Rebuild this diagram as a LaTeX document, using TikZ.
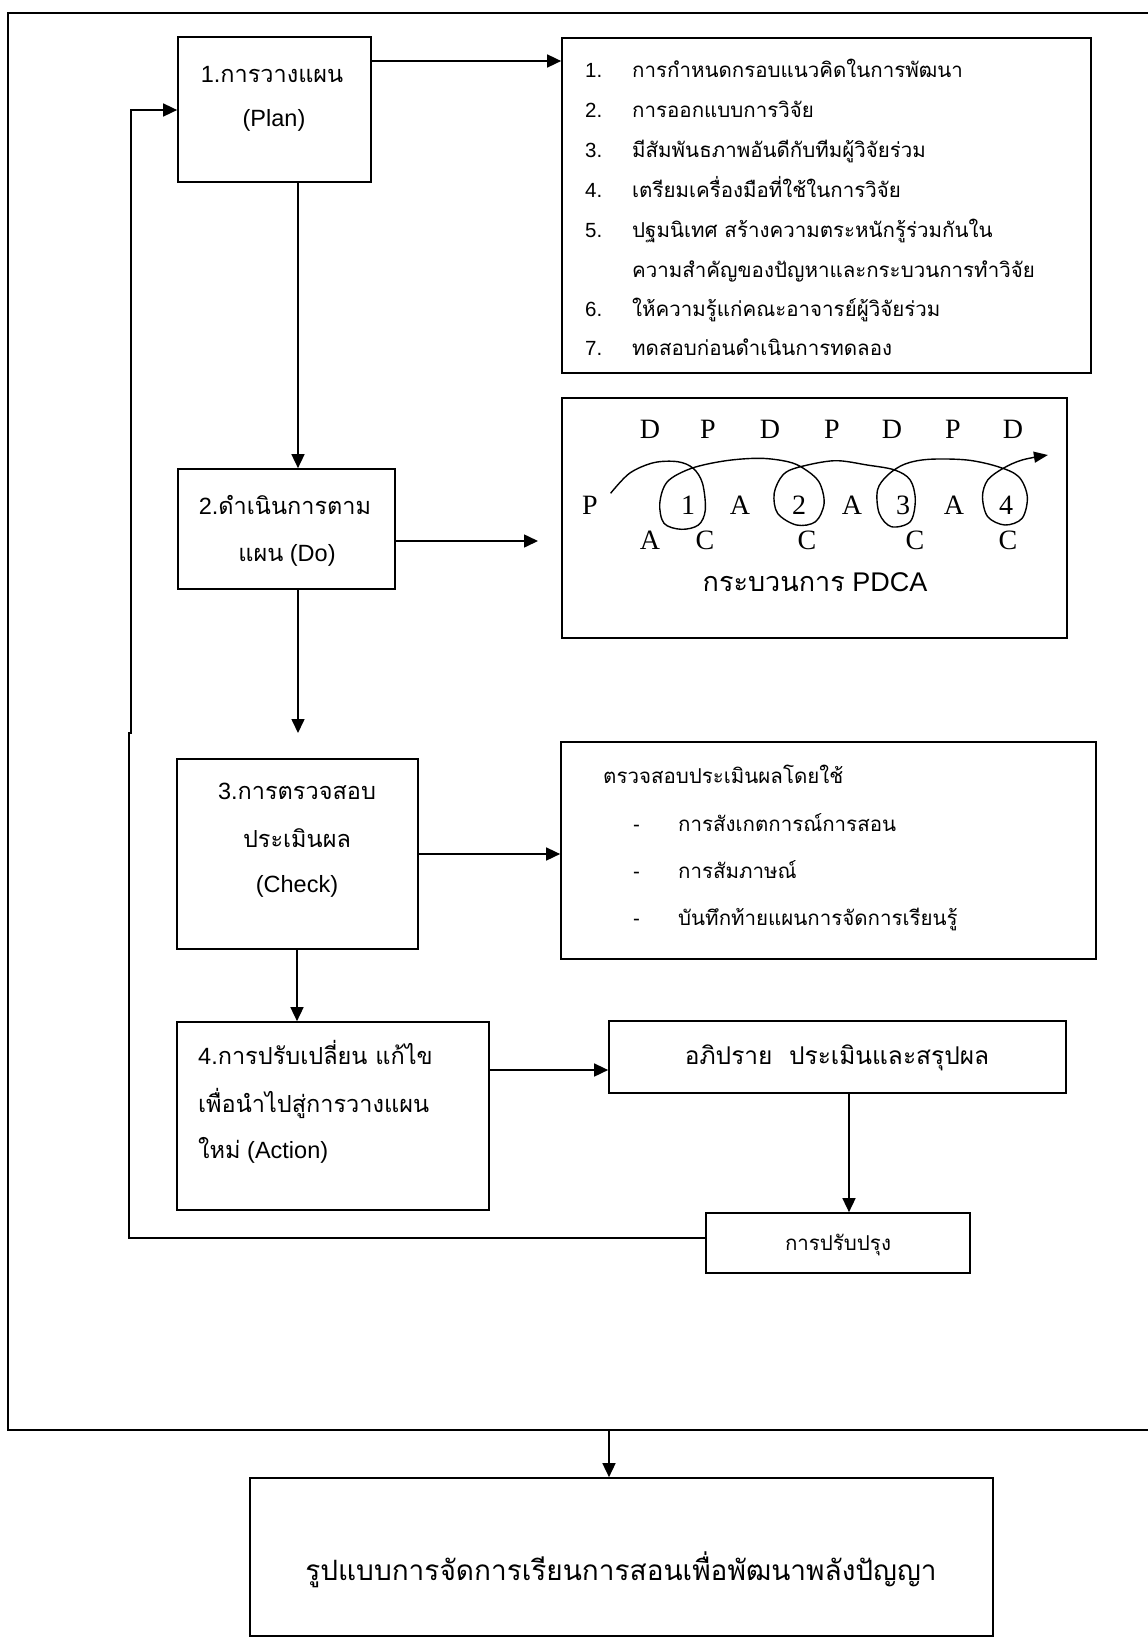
\documentclass[tikz,border=0pt]{standalone}
\usepackage{fontspec}
\setmainfont{Liberation Sans}
\newfontfamily\thaifont[Script=Thai]{Loma}
\newfontfamily\timesfont{Liberation Serif}
\usetikzlibrary{arrows.meta}
\newcommand{\thx}[1]{{\thaifont #1}}
\begin{document}
\begin{tikzpicture}[x=1pt,y=-1pt,
  box/.style={draw, line width=1.7pt, inner sep=0pt},
  conn/.style={line width=1.6pt},
  arr/.style={conn, -{Triangle[length=14pt,width=13pt]}},
  txt/.style={inner sep=0pt, anchor=mid, font=\fontsize{23.5}{28}\selectfont},
  ltxt/.style={inner sep=0pt, anchor=mid west, font=\fontsize{20.5}{25}\selectfont},
  pd/.style={inner sep=0pt, anchor=base, font=\timesfont\fontsize{28}{32}\selectfont},
]
\useasboundingbox (0,0) rectangle (1148,1639);
% outer frame
\draw[line width=2pt] (1148,13) -- (8,13) -- (8,1430) -- (1148,1430);
\coordinate (fb) at (609,1430);

% boxes
\node[box, minimum width=193pt, minimum height=145pt] (b1) at (274.5,109.5) {};
\node[box, minimum width=529pt, minimum height=335pt] (list) at (826.5,205.5) {};
\node[box, minimum width=217pt, minimum height=120pt] (b2) at (286.5,529) {};
\node[box, minimum width=505pt, minimum height=240pt] (pdca) at (814.5,518) {};
\node[box, minimum width=241pt, minimum height=190pt] (b3) at (297.5,854) {};
\node[box, minimum width=535pt, minimum height=217pt] (chk) at (828.5,850.5) {};
\node[box, minimum width=312pt, minimum height=188pt] (b4) at (333,1116) {};
\node[box, minimum width=457pt, minimum height=72pt] (disc) at (837.5,1057) {};
\node[box, minimum width=264pt, minimum height=60pt] (imp) at (838,1243) {};
\node[box, minimum width=743pt, minimum height=158pt] (fin) at (621.5,1557) {};

% box texts
\node[txt] (t1a) at (272,80) {1.\thx{การวางแผน}};
\node[txt] (t1b) at (274,124) {(Plan)};
\node[txt] (t2a) at (285,512) {2.\thx{ดำเนินการตาม}};
\node[txt] (t2b) at (287,559) {\thx{แผน} (Do)};
\node[txt] (t3a) at (297,797) {3.\thx{การตรวจสอบ}};
\node[txt] (t3b) at (297,845) {\thx{ประเมินผล}};
\node[txt] (t3c) at (297,890) {(Check)};
\node[txt, anchor=mid west] (t4a) at (198,1062) {4.\thx{การปรับเปลี่ยน แก้ไข}};
\node[txt, anchor=mid west] (t4b) at (198,1110) {\thx{เพื่อนำไปสู่การวางแผน}};
\node[txt, anchor=mid west] (t4c) at (198,1156) {\thx{ใหม่} (Action)};

% list
\node[ltxt] (n1) at (585,75) {1.};
\node[ltxt] (l1) at (632,75) {\thx{การกำหนดกรอบแนวคิดในการพัฒนา}};
\node[ltxt] (n2) at (585,115) {2.};
\node[ltxt] (l2) at (632,115) {\thx{การออกแบบการวิจัย}};
\node[ltxt] (n3) at (585,155) {3.};
\node[ltxt] (l3) at (632,155) {\thx{มีสัมพันธภาพอันดีกับทีมผู้วิจัยร่วม}};
\node[ltxt] (n4) at (585,195) {4.};
\node[ltxt] (l4) at (632,195) {\thx{เตรียมเครื่องมือที่ใช้ในการวิจัย}};
\node[ltxt] (n5) at (585,235) {5.};
\node[ltxt] (l5) at (632,235) {\thx{ปฐมนิเทศ สร้างความตระหนักรู้ร่วมกันใน}};
\node[ltxt] (l5b) at (632,275) {\thx{ความสำคัญของปัญหาและกระบวนการทำวิจัย}};
\node[ltxt] (n6) at (585,314) {6.};
\node[ltxt] (l6) at (632,314) {\thx{ให้ความรู้แก่คณะอาจารย์ผู้วิจัยร่วม}};
\node[ltxt] (n7) at (585,353) {7.};
\node[ltxt] (l7) at (632,353) {\thx{ทดสอบก่อนดำเนินการทดลอง}};

% PDCA diagram
\node[pd] (d1) at (650,438) {D};
\node[pd] (p1) at (708,438) {P};
\node[pd] (d2) at (770,438) {D};
\node[pd] (p2) at (832,438) {P};
\node[pd] (d3) at (892,438) {D};
\node[pd] (p3) at (953,438) {P};
\node[pd] (d4) at (1013,438) {D};
\node[pd] (p0) at (590,514) {P};
\node[pd] (k1) at (688,514) {1};
\node[pd] (a1) at (740,514) {A};
\node[pd] (k2) at (799,514) {2};
\node[pd] (a2) at (852,514) {A};
\node[pd] (k3) at (903,514) {3};
\node[pd] (a3) at (954,514) {A};
\node[pd] (k4) at (1006,514) {4};
\node[pd] (a0) at (650,549) {A};
\node[pd] (c1) at (705,549) {C};
\node[pd] (c2) at (807,549) {C};
\node[pd] (c3) at (915,549) {C};
\node[pd] (c4) at (1008,549) {C};
\draw[line width=1.4pt, -{Triangle[length=14pt,width=11pt]}] plot[smooth, tension=0.55] coordinates {
 (610.6,493.3) (629.5,473.3) (653.6,462.7) (677.7,461.7) (693.2,468.3) (702.5,483.3)
 (705.3,510) (698.4,525) (681.2,529.3) (664,523.3) (659.8,503.3) (667.4,481.7)
 (691.5,468.3) (726,460.7) (760.4,458.3) (787.9,461.7) (803.4,468.3) (818.9,481.7)
 (824.1,503.3) (815.5,521.7) (796.5,525) (777.6,513.3) (774.2,493.3) (782.8,475)
 (798.3,467.3) (834.4,460.7) (867.1,465) (894.7,470) (910.2,480) (915.3,500)
 (910.2,521.7) (891.3,526.7) (879.2,513.3) (877.5,490) (887.8,475) (905,464)
 (929.1,459.3) (967,460) (998,466.7) (1018.7,476.7) (1027.3,496.7) (1022.1,518.3)
 (1004.9,525) (987.7,516.7) (982.5,496.7) (987.7,480) (1003.2,468.3) (1022,460)
 (1047.9,455)};
\node[inner sep=0pt, anchor=mid, font=\fontsize{27}{32}\selectfont] (pl) at (815,589) {\thx{กระบวนการ} PDCA};

% check box texts
\node[ltxt] (ch0) at (603,781) {\thx{ตรวจสอบประเมินผลโดยใช้}};
\node[ltxt] (dh1) at (633,829) {-};
\node[ltxt] (ch1) at (678,829) {\thx{การสังเกตการณ์การสอน}};
\node[ltxt] (dh2) at (633,876) {-};
\node[ltxt] (ch2) at (678,876) {\thx{การสัมภาษณ์}};
\node[ltxt] (dh3) at (633,923) {-};
\node[ltxt] (ch3) at (678,923) {\thx{บันทึกท้ายแผนการจัดการเรียนรู้}};

% discuss / improve / final texts
\node[txt, font=\fontsize{24.5}{29}\selectfont] (dt) at (837,1062) {\thx{อภิปราย\ \ ประเมินและสรุปผล}};
\node[txt, font=\fontsize{20.5}{24}\selectfont] (it) at (838,1248) {\thx{การปรับปรุง}};
\node[txt, font=\fontsize{28}{34}\selectfont] (ft) at (621,1578) {\thx{รูปแบบการจัดการเรียนการสอนเพื่อพัฒนาพลังปัญญา}};

% connectors
\coordinate (y61) at (0,61);
\coordinate (x298) at (298,0);
\coordinate (y541) at (0,541);
\coordinate (y854) at (0,854);
\coordinate (x297) at (297,0);
\coordinate (y1070) at (0,1070);
\coordinate (x849) at (849,0);
\coordinate (y1238) at (0,1238);
\coordinate (y110) at (0,110);
\coordinate (e2) at (538,541);
\coordinate (e3) at (298,733);
\coordinate (fa) at (129,1238);
\coordinate (fj) at (129,733);
\coordinate (fk) at (131,733);
\coordinate (ft1) at (131,110);

\draw[arr] (b1.east |- y61) -- (list.west |- y61);
\draw[arr] (b1.south -| x298) -- (b2.north -| x298);
\draw[arr] (b2.east |- y541) -- (e2);
\draw[arr] (b2.south -| x298) -- (e3);
\draw[arr] (b3.east |- y854) -- (chk.west |- y854);
\draw[arr] (b3.south -| x297) -- (b4.north -| x297);
\draw[arr] (b4.east |- y1070) -- (disc.west |- y1070);
\draw[arr] (disc.south -| x849) -- (imp.north -| x849);
\draw[arr] (imp.west |- y1238) -- (fa) -- (fj) -- (fk) -- (ft1) -- (b1.west |- y110);
\draw[arr] (fb) -- (fin.north -| fb);
\end{tikzpicture}
\end{document}
